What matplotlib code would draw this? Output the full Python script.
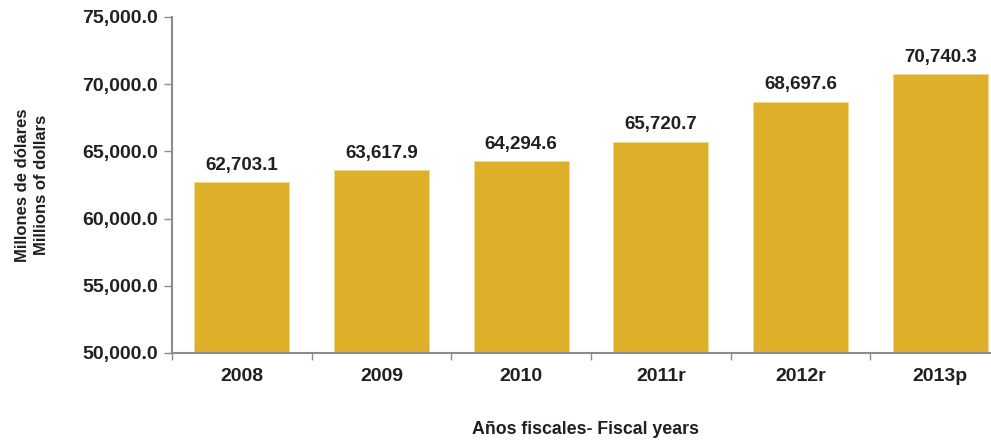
import matplotlib
matplotlib.use("Agg")
import matplotlib.pyplot as plt
from matplotlib.ticker import FuncFormatter

categories = ["2008", "2009", "2010", "2011r", "2012r", "2013p"]
values = [62703.1, 63617.9, 64294.6, 65720.7, 68697.6, 70740.3]
yticks = [50000, 55000, 60000, 65000, 70000, 75000]

BAR = "#DEAF29"
SPINE = "#8C8C8C"
TXT = "#231F20"

plt.rcParams["font.family"] = ["Liberation Sans", "DejaVu Sans"]
plt.rcParams["font.weight"] = "bold"

fig = plt.figure(figsize=(9.91, 4.41), dpi=100)
ax = fig.add_axes([172/991, 1-353/441, (1010-172)/991, (353-17)/441])

x = list(range(len(categories)))
bars = ax.bar(x, values, width=0.68, color=BAR, edgecolor="#F2D98A", linewidth=0.6, zorder=2)

ax.set_xlim(-0.5, len(categories) - 0.5)
ax.set_ylim(50000, 75000)
ax.set_yticks(yticks)
ax.yaxis.set_major_formatter(FuncFormatter(lambda v, p: f"{v:,.1f}"))

ax.set_xticks(x)
ax.set_xticklabels(categories)
ax.set_xticks([i - 0.5 for i in range(len(categories) + 1)], minor=True)
ax.tick_params(axis="x", which="major", length=0, pad=11, labelsize=14, labelcolor=TXT)
ax.tick_params(axis="x", which="minor", length=5, width=1, color=SPINE, direction="out")
ax.tick_params(axis="y", length=6, width=1, color=SPINE, pad=4, labelsize=14, labelcolor=TXT)

for s in ["top", "right"]:
    ax.spines[s].set_visible(False)
for s in ["left", "bottom"]:
    ax.spines[s].set_color(SPINE)
    ax.spines[s].set_linewidth(1.5)

for xi, v in zip(x, values):
    ax.annotate(f"{v:,.1f}", (xi, v), xytext=(0, 6), textcoords="offset points",
                ha="center", va="bottom", fontsize=13.5, fontweight="bold", color=TXT)

fig.text(32/991, 1-185/441, "Millones de dólares\nMillions of dollars", rotation=90,
         ha="center", va="center", fontsize=12, fontweight="bold", color=TXT,
         linespacing=1.3)
fig.text(586/991, 1-430/441, "Años fiscales- Fiscal years", ha="center", va="center",
         fontsize=12.8, fontweight="bold", color=TXT)

fig.savefig("out.png", dpi=100)
